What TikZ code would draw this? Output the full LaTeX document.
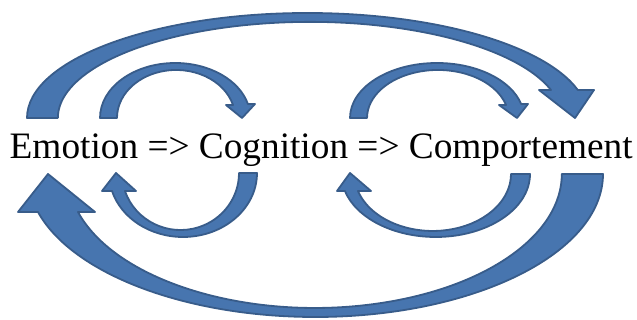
\documentclass[tikz,border=0pt]{standalone}
\usepackage{fontspec}
\setmainfont{Liberation Serif}
\definecolor{arrowfill}{HTML}{4775AF}
\definecolor{arrowedge}{HTML}{385C8A}
\begin{document}
\begin{tikzpicture}[x=1pt,y=1pt,
  curvedarrow/.style={fill=arrowfill, draw=arrowedge, line width=1.8pt, line join=round}]
\useasboundingbox (0,0) rectangle (637,320);
% big top arrow: Emotion -> Comportement
\draw[curvedarrow] (27,202) arc[start angle=180, end angle=15.5, x radius=280.5, y radius=105]
  -- (594,230) -- (575,202) -- (539,230) -- (551,230)
  arc[start angle=16.9, end angle=180, x radius=252, y radius=96] -- cycle;
% big bottom arrow: Comportement -> Emotion
\draw[curvedarrow] (603,146) arc[start angle=0, end angle=-164.6, x radius=287.7, y radius=143]
  -- (18,108) -- (48,146) -- (95,108) -- (78,108)
  arc[start angle=-163.5, end angle=0, x radius=247, y radius=134] -- cycle;
% small top left: Emotion -> Cognition
\draw[curvedarrow] (100,202) arc[start angle=180, end angle=14.75, x radius=75.2, y radius=55]
  -- (255,216) -- (242,202) -- (226,215) -- (233,215)
  arc[start angle=15.7, end angle=180, x radius=59.1, y radius=48] -- cycle;
% small top right: Cognition -> Comportement
\draw[curvedarrow] (350,202) arc[start angle=180, end angle=14.75, x radius=87, y radius=55]
  -- (528,216) -- (517,202) -- (499,215) -- (506,215)
  arc[start angle=15.7, end angle=180, x radius=70.8, y radius=48] -- cycle;
% small bottom left: Cognition -> Emotion
\draw[curvedarrow] (257,147) arc[start angle=0, end angle=-163.7, x radius=74, y radius=64]
  -- (102,129) -- (116,147) -- (136,129) -- (125,129)
  arc[start angle=-161.6, end angle=0, x radius=58.5, y radius=57] -- cycle;
% small bottom right: Comportement -> Cognition
\draw[curvedarrow] (530,146) arc[start angle=0, end angle=-164.3, x radius=94.3, y radius=63]
  -- (337,129) -- (350,147) -- (371,129) -- (358,129)
  arc[start angle=-162.6, end angle=0, x radius=78.3, y radius=57] -- cycle;
% text
\node[anchor=base west, inner sep=0pt, font=\fontsize{37.3}{44}\selectfont] (txt) at (9.5,161)
  {Emotion => Cognition => Comportement};
\end{tikzpicture}
\end{document}
